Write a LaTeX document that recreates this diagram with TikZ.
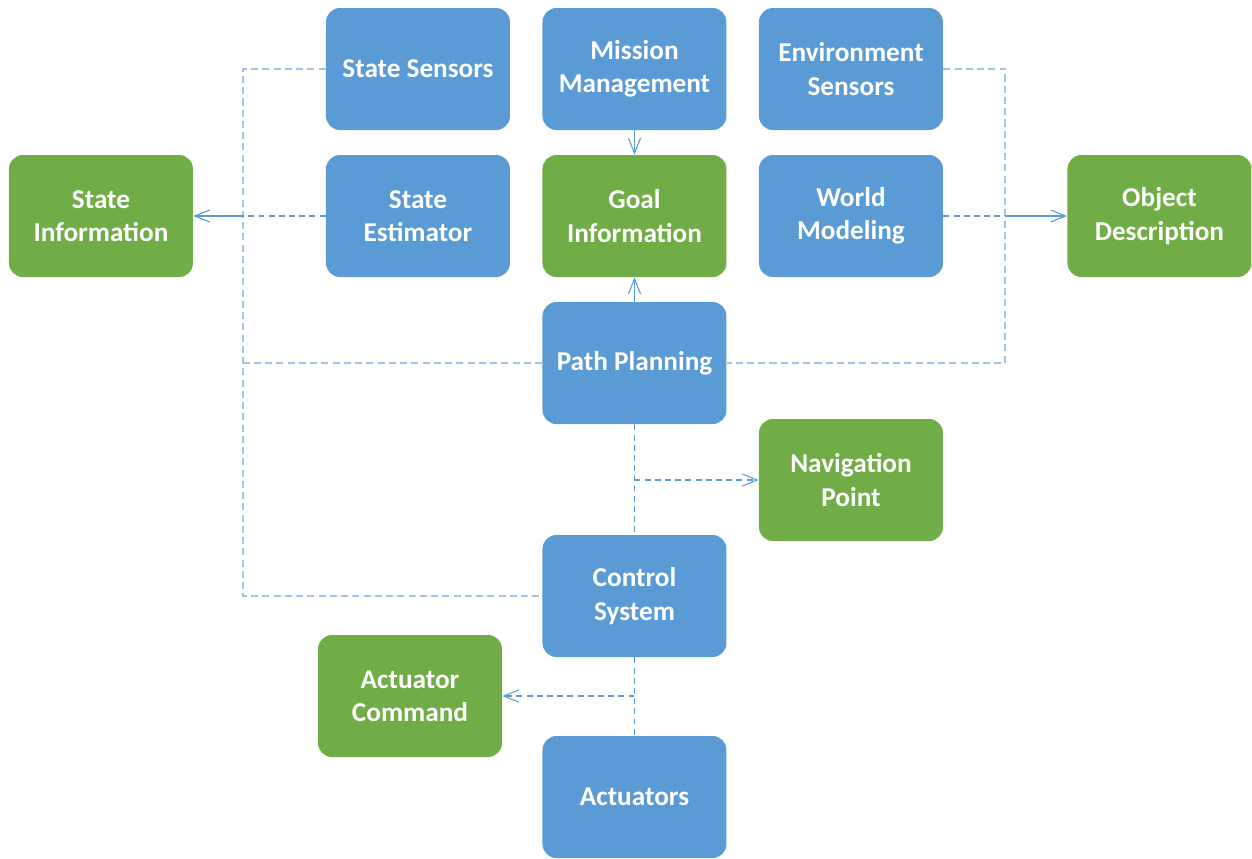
\documentclass[tikz,border=0pt]{standalone}
\usepackage{fontspec}
\setmainfont{Carlito}
\usepackage{tikz}
\usetikzlibrary{arrows.meta,positioning,calc}

\definecolor{blockblue}{HTML}{5B9BD5}
\definecolor{datagreen}{HTML}{70AD47}
\definecolor{lineblue}{HTML}{5B9BD5}
\definecolor{lightblue}{HTML}{9DC3E6}

\begin{document}
\begin{tikzpicture}[node distance=2.94cm,>={Straight Barb[length=3mm,width=2.4mm]},
  font=\fontsize{15.5}{19}\selectfont\bfseries]

  \tikzstyle{block}=[rectangle,rounded corners=2.8mm,fill=blockblue,text=white,
                     minimum width=3.68cm,minimum height=2.44cm,align=center]
  \tikzstyle{green block}=[block,fill=datagreen]
  \tikzstyle{link}=[draw=lineblue,line width=0.6pt,dash pattern=on 3.4pt off 2.4pt]
  \tikzstyle{feed}=[draw=lightblue,line width=1.1pt,dash pattern=on 4pt off 2.4pt]
  \tikzstyle{flow}=[->,draw=lineblue,line width=0.6pt]

  \useasboundingbox (-12.69,1.38) rectangle (12.35,-15.78);

  % Top row
  \node [block] (mm)                                       {Mission\\Management};
  \node [block] (ss) [left of=mm,node distance=4.33cm]     {State Sensors};
  \node [block] (es) [right of=mm,node distance=4.33cm]    {Environment\\Sensors};

  % Second row
  \node [green block] (gi) [below of=mm]                   {Goal\\Information};
  \node [block]       (se) [below of=ss]                   {State\\Estimator};
  \node [block]       (wm) [below of=es]                   {World\\Modeling};
  \node [green block] (si) [left of=se,node distance=6.34cm]  {State\\Information};
  \node [green block] (od) [right of=wm,node distance=6.17cm] {Object\\Description};

  % Planning and control
  \node [block]       (pp)  [below of=gi]                       {Path Planning};
  \node [green block] (np)  [below of=wm,node distance=5.28cm]  {Navigation\\Point};
  \node [block]       (cs)  [below of=pp,node distance=4.66cm]  {Control\\System};
  \node [green block] (ac)  [below of=cs,node distance=2cm,xshift=-4.49cm] {Actuator\\Command};
  \node [block]       (act) [below of=cs,node distance=4.02cm]  {Actuators};

  \coordinate (ls) at ([xshift=-1.66cm]ss.west);
  \coordinate (rs) at ([xshift=1.24cm]es.east);

  % Sensor feedback loops
  \draw [feed] (ss.west) -- (ls) |- (cs.west);
  \draw [feed] (pp.west) -- (pp.west -| ls);
  \draw [feed] (es.east) -- (rs) |- (pp.east);

  % Estimates and world model
  \draw [link] (se.west) -- (se.west -| ls);
  \draw [flow] (se.west -| ls) -- (si.east);
  \draw [link] (wm.east) -- (wm.east -| rs);
  \draw [flow] (wm.east -| rs) -- (od.west);

  % Goals
  \draw [flow] (mm) -- (gi);
  \draw [flow] (pp) -- (gi);

  % Commands downwards
  \draw [link] (pp) -- (cs);
  \draw [link,->] (pp |- np) -- (np);
  \draw [link] (cs) -- (act);
  \draw [link,->] (cs |- ac) -- (ac);
\end{tikzpicture}
\end{document}
